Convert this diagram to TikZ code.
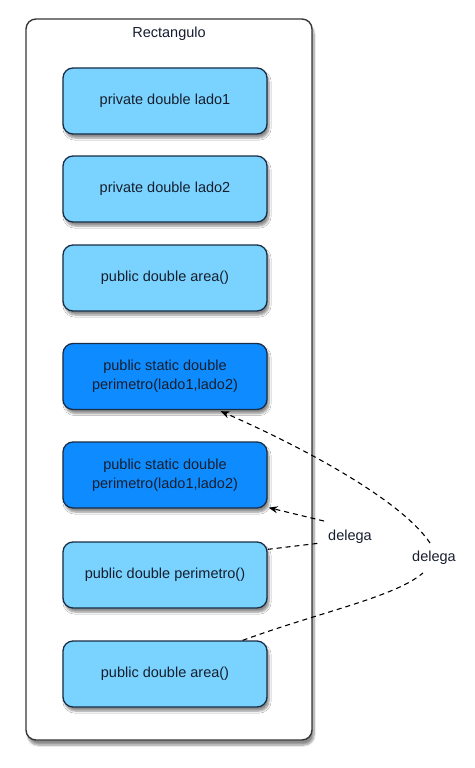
\documentclass[tikz,border=0pt]{standalone}
\usepackage{fontspec}
\setmainfont{Liberation Sans}
\usetikzlibrary{shadows.blur,arrows.meta}
\definecolor{lightbox}{RGB}{122,211,255}
\definecolor{darkbox}{RGB}{14,140,255}
\definecolor{boxline}{RGB}{25,45,70}
\definecolor{frameline}{RGB}{55,55,55}
\definecolor{txt}{RGB}{22,30,45}
\begin{document}
\begin{tikzpicture}[x=1pt,y=-1pt,
  member/.style={draw=boxline, line width=1.3pt, rounded corners=10pt,
    minimum width=204pt, minimum height=66pt, align=center, inner sep=0pt,
    font=\fontsize{14.5}{19}\selectfont, text=txt,
    blur shadow={shadow xshift=2pt, shadow yshift=-4pt, shadow blur steps=6, shadow opacity=45}},
  plain/.style={member, fill=lightbox},
  static/.style={member, fill=darkbox},
  lbl/.style={font=\fontsize{14.5}{17}\selectfont, inner sep=1pt, text=txt},
  deleg/.style={dashed, line width=1.1pt, dash pattern=on 5pt off 4pt},
  tip/.style={-{Stealth[length=9pt,width=7pt]}}
]
\useasboundingbox (0,0) rectangle (474,768);
\node[draw=frameline, line width=1.4pt, rounded corners=10pt, fill=white,
  minimum width=286pt, minimum height=721pt, inner sep=0pt,
  blur shadow={shadow xshift=2pt, shadow yshift=-5pt, shadow blur steps=8, shadow opacity=45}]
  (frame) at (169,379.5) {};
\node[lbl] (title) at (169,34) {Rectangulo};
\node[plain]  (b1) at (165,101) {private double lado1};
\node[plain]  (b2) at (165,189) {private double lado2};
\node[plain]  (b3) at (165,278) {public double area()};
\node[static] (b4) at (165,376.5) {public static double\\perimetro(lado1,lado2)};
\node[static] (b5) at (165,475) {public static double\\perimetro(lado1,lado2)};
\node[plain]  (b6) at (165,575) {public double perimetro()};
\node[plain]  (b7) at (165,674) {public double area()};
\node[lbl] (d1) at (350,537) {delega};
\node[lbl] (d2) at (434,558) {delega};
\draw[deleg] ([yshift=-8pt]b6.north east) -- ([xshift=-6pt,yshift=2pt]d1.south west);
\draw[deleg,tip] ([xshift=-3pt,yshift=8pt]d1.north west) -- ([xshift=1pt,yshift=1pt]b5.south east);
\draw[deleg] ([xshift=-25pt]b7.north east) .. controls (320,612) and (395,597) .. ([xshift=-11pt,yshift=-7pt]d2.south);
\draw[deleg,tip] ([xshift=-4pt,yshift=7pt]d2.north) .. controls (405,505) and (320,455) .. ([xshift=-47pt,yshift=-1pt]b4.south east);
\end{tikzpicture}
\end{document}
